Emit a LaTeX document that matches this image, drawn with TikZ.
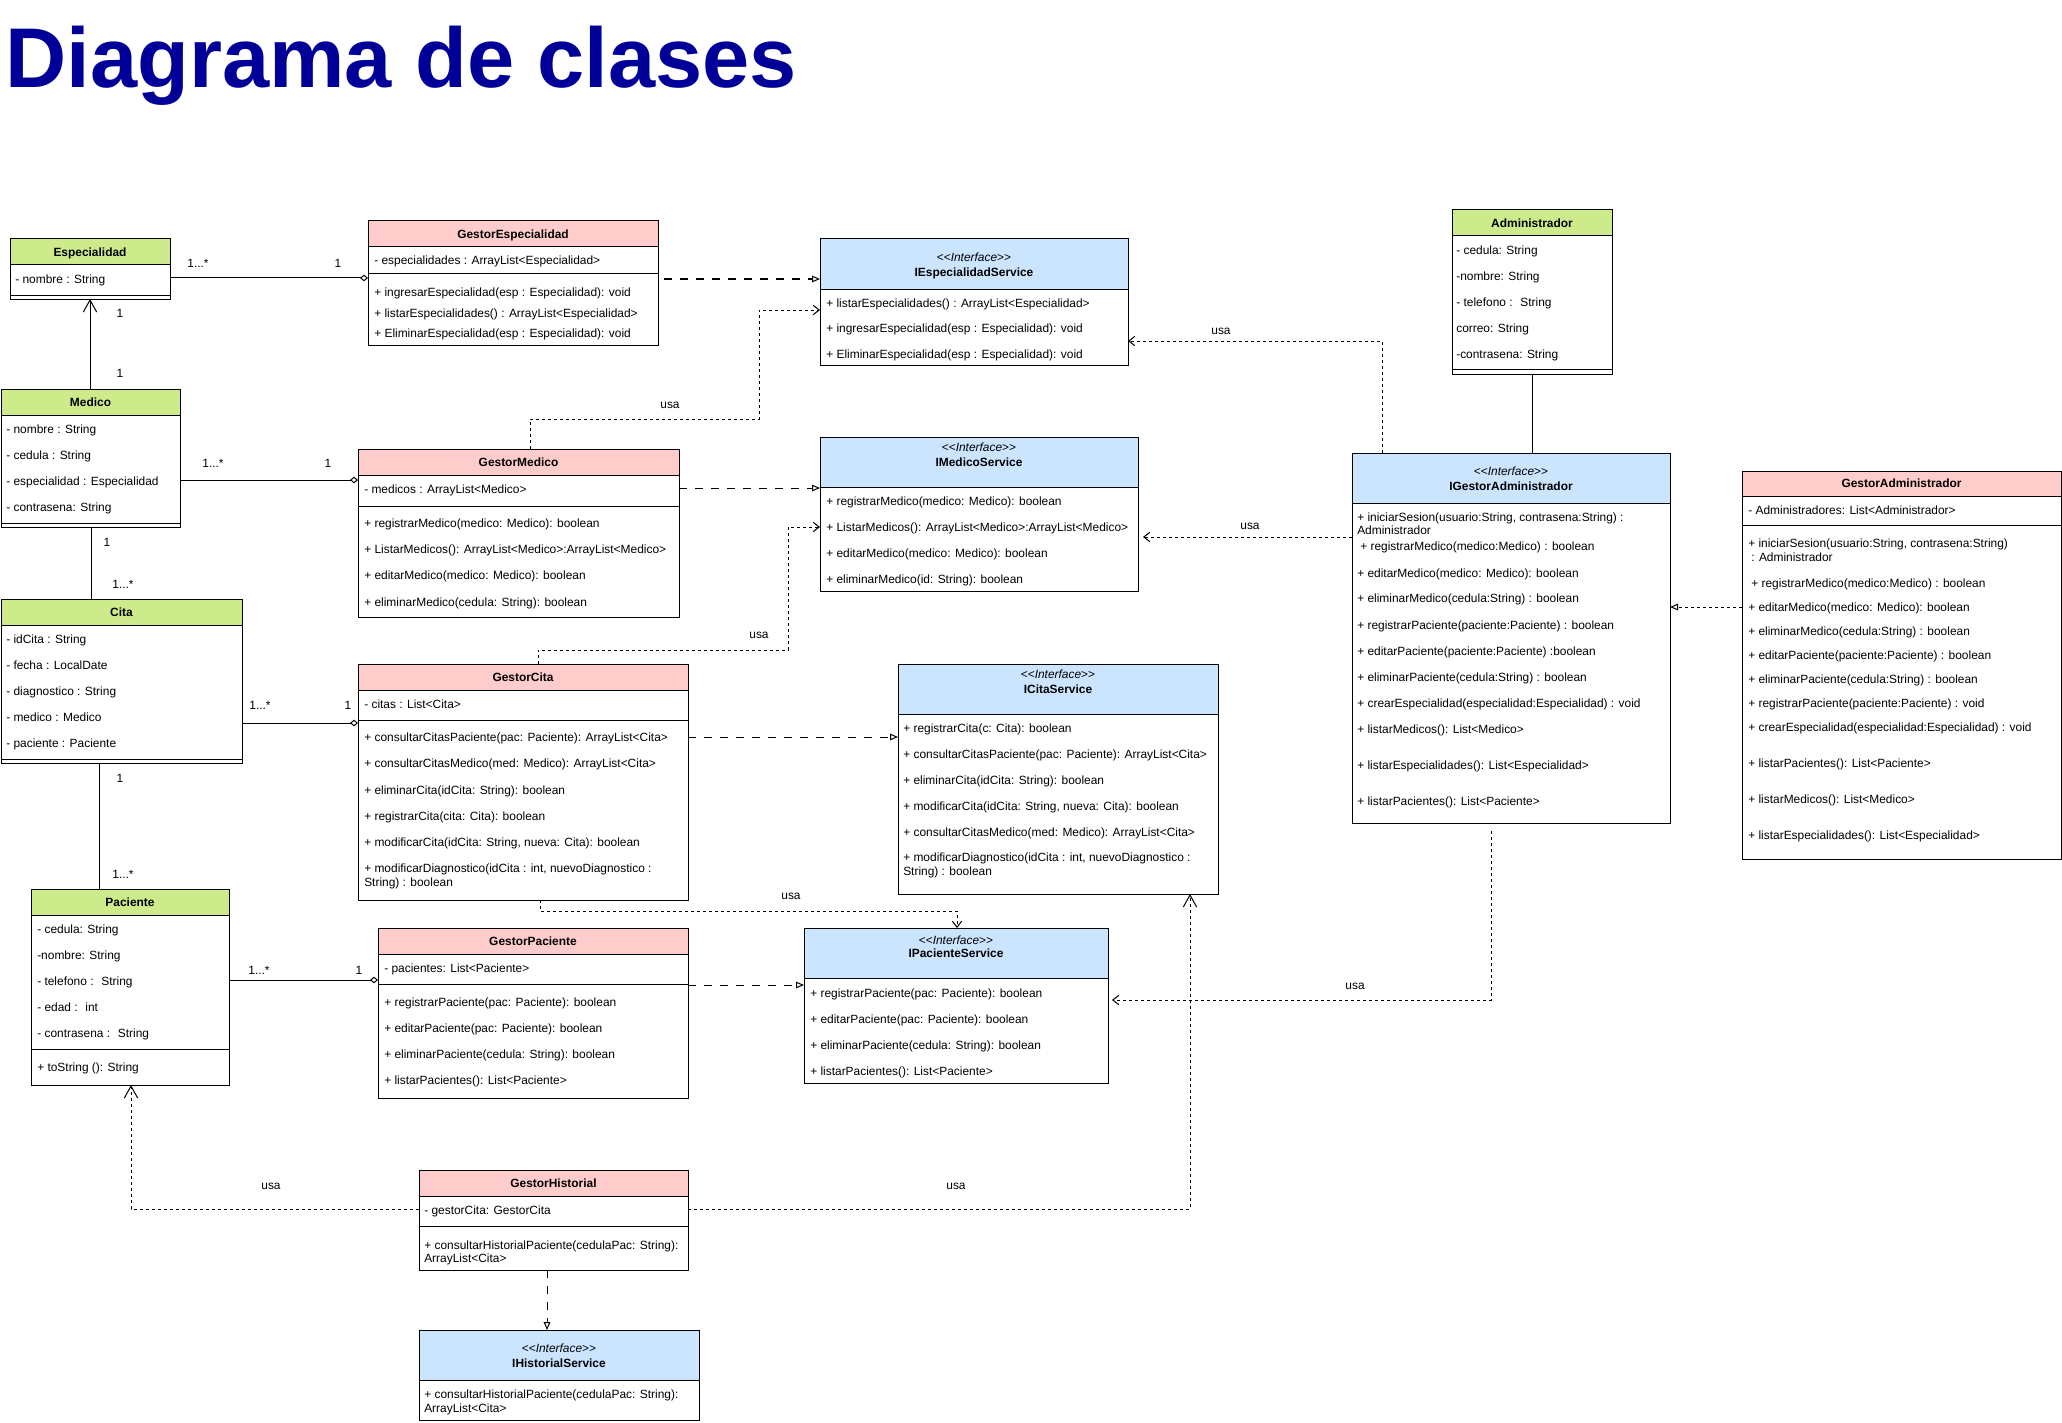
\documentclass[tikz,border=0pt]{standalone}
\usepackage{fontspec}
\setmainfont{Liberation Sans}
\usetikzlibrary{arrows.meta}
\definecolor{hgreen}{HTML}{CDEB8B}
\definecolor{hpink}{HTML}{FFCCCC}
\definecolor{hblue}{HTML}{CCE5FF}
\definecolor{ttl}{HTML}{000099}
\newcommand\ltlt{<\kern0pt<}
\newcommand\gtgt{>\kern0pt>}
\newcommand\umlbox[7]{%
  \node[box, minimum width=#4*0.75pt, minimum height=#5*0.75pt] (#1) at (#2,#3) {};
  \draw[boxl, fill=#7] (#2,#3) rectangle ++(#4,#6);
}
\newcommand\itm[4]{\node[itm] (#1) at (#2,#3) {#4};}
\newcommand\sepline[3]{\draw[boxl] (#1,#3) -- ++(#2,0);}
\begin{document}
\begin{tikzpicture}[x=0.75pt,y=-0.75pt,
  box/.style={draw=black, fill=white, line width=0.75pt, anchor=north west, inner sep=0pt, outer sep=0pt},
  boxl/.style={draw=black, line width=0.75pt},
  itm/.style={anchor=base west, inner sep=0pt, yshift=-3.1pt, font=\fontsize{8.95}{10.7}\selectfont},
  hdr/.style={anchor=base, inner sep=0pt, yshift=-3.1pt, font=\fontsize{8.95}{10.7}\selectfont\bfseries},
  ster/.style={anchor=base, inner sep=0pt, yshift=-3.1pt, font=\fontsize{8.95}{10.7}\selectfont},
  lbl/.style={anchor=base, inner sep=0pt, yshift=-3.1pt, font=\fontsize{8.95}{10.7}\selectfont},
  con/.style={line width=0.75pt},
  agg/.style={con, -{Diamond[open, length=6pt, width=5pt]}},
  real/.style={con, dash pattern=on 6pt off 6pt, -{Triangle[open, length=6pt, width=5pt]}},
  realshort/.style={con, dash pattern=on 2.25pt off 2.25pt, -{Triangle[open, length=6pt, width=5pt]}},
  usa/.style={con, dash pattern=on 2.25pt off 2.25pt, -{Straight Barb[length=4.5pt, width=7pt]}},
  usabig/.style={con, dash pattern=on 2.25pt off 2.25pt, -{Straight Barb[length=9pt, width=10pt]}},
  nav/.style={con, -{Straight Barb[length=9pt, width=10pt]}},
]
\fill[white] (0,0) rectangle (2062,1423);
\useasboundingbox (0,0) rectangle (2062,1423);

\node[anchor=base west, inner sep=0pt, text=ttl, font=\fontsize{63.6}{70}\selectfont\bfseries] (title) at (5,88) {Diagrama de clases};

% Especialidad
\umlbox{esp}{10}{239}{160}{60}{26}{hgreen}
\node[hdr] (esp-h) at (90,252) {Especialidad};
\itm{esp-1}{15}{279}{- nombre : String}
\sepline{10}{160}{295}

% GestorEspecialidad
\umlbox{gesp}{368}{221}{290}{124}{26}{hpink}
\node[hdr] (gesp-h) at (513,234) {GestorEspecialidad};
\itm{gesp-1}{374}{260}{- especialidades : ArrayList<Especialidad>}
\sepline{368}{290}{274}
\itm{gesp-2}{374}{292}{+ ingresarEspecialidad(esp : Especialidad): void}
\itm{gesp-3}{374}{313}{+ listarEspecialidades() : ArrayList<Especialidad>}
\itm{gesp-4}{374}{333}{+ EliminarEspecialidad(esp : Especialidad): void}

% IEspecialidadService
\umlbox{iesp}{820}{239}{308}{126}{50}{hblue}
\node[ster] (iesp-s) at (974,257) {\ltlt\textit{Interface}\gtgt};
\node[hdr] (iesp-h) at (974,272) {IEspecialidadService};
\itm{iesp-1}{826}{303}{+ listarEspecialidades() : ArrayList<Especialidad>}
\itm{iesp-2}{826}{328}{+ ingresarEspecialidad(esp : Especialidad): void}
\itm{iesp-3}{826}{354}{+ EliminarEspecialidad(esp : Especialidad): void}

% Administrador
\umlbox{admin}{1452}{210}{160}{164}{26}{hgreen}
\node[hdr] (admin-h) at (1532,223) {Administrador};
\itm{admin-1}{1456}{250}{- cedula: String}
\itm{admin-2}{1456}{276}{-nombre: String}
\itm{admin-3}{1456}{302}{- telefono : \ String}
\itm{admin-4}{1456}{328}{correo: String}
\itm{admin-5}{1456}{354}{-contrasena: String}
\sepline{1452}{160}{369}

% Medico
\umlbox{med}{1}{389}{179}{138}{26}{hgreen}
\node[hdr] (med-h) at (90.5,402) {Medico};
\itm{med-1}{6}{429}{- nombre : String}
\itm{med-2}{6}{455}{- cedula : String}
\itm{med-3}{6}{481}{- especialidad : Especialidad}
\itm{med-4}{6}{507}{- contrasena: String}
\sepline{1}{179}{523}

% GestorMedico
\umlbox{gmed}{358}{449}{321}{168}{26}{hpink}
\node[hdr] (gmed-h) at (518.5,462) {GestorMedico};
\itm{gmed-1}{364}{489}{- medicos : ArrayList<Medico>}
\sepline{358}{321}{506}
\itm{gmed-2}{364}{523}{+ registrarMedico(medico: Medico): boolean}
\itm{gmed-3}{364}{549}{+ ListarMedicos(): ArrayList<Medico>:ArrayList<Medico>}
\itm{gmed-4}{364}{575}{+ editarMedico(medico: Medico): boolean}
\itm{gmed-5}{364}{602}{+ eliminarMedico(cedula: String): boolean}

% IMedicoService
\umlbox{imed}{820}{437}{318}{154}{50}{hblue}
\node[ster] (imed-s) at (979,447) {\ltlt\textit{Interface}\gtgt};
\node[hdr] (imed-h) at (979,462) {IMedicoService};
\itm{imed-1}{826}{501}{+ registrarMedico(medico: Medico): boolean}
\itm{imed-2}{826}{527}{+ ListarMedicos(): ArrayList<Medico>:ArrayList<Medico>}
\itm{imed-3}{826}{553}{+ editarMedico(medico: Medico): boolean}
\itm{imed-4}{826}{579}{+ eliminarMedico(id: String): boolean}

% IGestorAdministrador
\umlbox{igadm}{1352}{453}{318}{370}{50}{hblue}
\node[ster] (igadm-s) at (1511,471) {\ltlt\textit{Interface}\gtgt};
\node[hdr] (igadm-h) at (1511,486) {IGestorAdministrador};
\itm{igadm-1}{1357}{517}{+ iniciarSesion(usuario:String, contrasena:String) :}
\itm{igadm-2}{1357}{530}{Administrador}
\itm{igadm-3}{1360}{546}{+ registrarMedico(medico:Medico) : boolean}
\itm{igadm-4}{1357}{573}{+ editarMedico(medico: Medico): boolean}
\itm{igadm-5}{1357}{598}{+ eliminarMedico(cedula:String) : boolean}
\itm{igadm-6}{1357}{625}{+ registrarPaciente(paciente:Paciente) : boolean}
\itm{igadm-7}{1357}{651}{+ editarPaciente(paciente:Paciente) :boolean}
\itm{igadm-8}{1357}{677}{+ eliminarPaciente(cedula:String) : boolean}
\itm{igadm-9}{1357}{703}{+ crearEspecialidad(especialidad:Especialidad) : void}
\itm{igadm-10}{1357}{729}{+ listarMedicos(): List<Medico>}
\itm{igadm-11}{1357}{765}{+ listarEspecialidades(): List<Especialidad>}
\itm{igadm-12}{1357}{801}{+ listarPacientes(): List<Paciente>}

% GestorAdministrador
\umlbox{gadm}{1742}{471}{319}{388}{25}{hpink}
\node[hdr] (gadm-h) at (1901.5,483.5) {GestorAdministrador};
\itm{gadm-1}{1748}{510}{- Administradores: List<Administrador>}
\sepline{1742}{319}{525}
\itm{gadm-2}{1748}{543}{+ iniciarSesion(usuario:String, contrasena:String)}
\itm{gadm-3}{1751}{557}{: Administrador}
\itm{gadm-4}{1751}{583}{+ registrarMedico(medico:Medico) : boolean}
\itm{gadm-5}{1748}{607}{+ editarMedico(medico: Medico): boolean}
\itm{gadm-6}{1748}{631}{+ eliminarMedico(cedula:String) : boolean}
\itm{gadm-7}{1748}{655}{+ editarPaciente(paciente:Paciente) : boolean}
\itm{gadm-8}{1748}{679}{+ eliminarPaciente(cedula:String) : boolean}
\itm{gadm-9}{1748}{703}{+ registrarPaciente(paciente:Paciente) : void}
\itm{gadm-10}{1748}{727}{+ crearEspecialidad(especialidad:Especialidad) : void}
\itm{gadm-11}{1748}{763}{+ listarPacientes(): List<Paciente>}
\itm{gadm-12}{1748}{799}{+ listarMedicos(): List<Medico>}
\itm{gadm-13}{1748}{835}{+ listarEspecialidades(): List<Especialidad>}

% Cita
\umlbox{cita}{1}{599}{241}{164}{26}{hgreen}
\node[hdr] (cita-h) at (121.5,612) {Cita};
\itm{cita-1}{6}{639}{- idCita : String}
\itm{cita-2}{6}{665}{- fecha : LocalDate}
\itm{cita-3}{6}{691}{- diagnostico : String}
\itm{cita-4}{6}{717}{- medico : Medico}
\itm{cita-5}{6}{743}{- paciente : Paciente}
\sepline{1}{241}{759}

% GestorCita
\umlbox{gcita}{358}{664}{330}{236}{26}{hpink}
\node[hdr] (gcita-h) at (523,677) {GestorCita};
\itm{gcita-1}{364}{704}{- citas : List<Cita>}
\sepline{358}{330}{720}
\itm{gcita-2}{364}{737}{+ consultarCitasPaciente(pac: Paciente): ArrayList<Cita>}
\itm{gcita-3}{364}{763}{+ consultarCitasMedico(med: Medico): ArrayList<Cita>}
\itm{gcita-4}{364}{790}{+ eliminarCita(idCita: String): boolean}
\itm{gcita-5}{364}{816}{+ registrarCita(cita: Cita): boolean}
\itm{gcita-6}{364}{842}{+ modificarCita(idCita: String, nueva: Cita): boolean}
\itm{gcita-7}{364}{868}{+ modificarDiagnostico(idCita : int, nuevoDiagnostico :}
\itm{gcita-8}{364}{882}{String) : boolean}

% ICitaService
\umlbox{icita}{898}{664}{320}{230}{50}{hblue}
\node[ster] (icita-s) at (1058,674) {\ltlt\textit{Interface}\gtgt};
\node[hdr] (icita-h) at (1058,689) {ICitaService};
\itm{icita-1}{903}{728}{+ registrarCita(c: Cita): boolean}
\itm{icita-2}{903}{754}{+ consultarCitasPaciente(pac: Paciente): ArrayList<Cita>}
\itm{icita-3}{903}{780}{+ eliminarCita(idCita: String): boolean}
\itm{icita-4}{903}{806}{+ modificarCita(idCita: String, nueva: Cita): boolean}
\itm{icita-5}{903}{832}{+ consultarCitasMedico(med: Medico): ArrayList<Cita>}
\itm{icita-6}{903}{857}{+ modificarDiagnostico(idCita : int, nuevoDiagnostico :}
\itm{icita-7}{903}{871}{String) : boolean}

% Paciente
\umlbox{pac}{31}{889}{198}{196}{26}{hgreen}
\node[hdr] (pac-h) at (130,902) {Paciente};
\itm{pac-1}{37}{929}{- cedula: String}
\itm{pac-2}{37}{955}{-nombre: String}
\itm{pac-3}{37}{981}{- telefono : \ String}
\itm{pac-4}{37}{1007}{- edad : \ int}
\itm{pac-5}{37}{1033}{- contrasena : \ String}
\sepline{31}{198}{1049}
\itm{pac-6}{37}{1067}{+ toString (): String}

% GestorPaciente
\umlbox{gpac}{378}{928}{310}{170}{26}{hpink}
\node[hdr] (gpac-h) at (533,941) {GestorPaciente};
\itm{gpac-1}{384}{968}{- pacientes: List<Paciente>}
\sepline{378}{310}{984}
\itm{gpac-2}{384}{1002}{+ registrarPaciente(pac: Paciente): boolean}
\itm{gpac-3}{384}{1028}{+ editarPaciente(pac: Paciente): boolean}
\itm{gpac-4}{384}{1054}{+ eliminarPaciente(cedula: String): boolean}
\itm{gpac-5}{384}{1080}{+ listarPacientes(): List<Paciente>}

% IPacienteService
\umlbox{ipac}{804}{928}{304}{155}{50}{hblue}
\node[ster] (ipac-s) at (956,940) {\ltlt\textit{Interface}\gtgt};
\node[hdr] (ipac-h) at (956,953) {IPacienteService};
\itm{ipac-1}{810}{993}{+ registrarPaciente(pac: Paciente): boolean}
\itm{ipac-2}{810}{1019}{+ editarPaciente(pac: Paciente): boolean}
\itm{ipac-3}{810}{1045}{+ eliminarPaciente(cedula: String): boolean}
\itm{ipac-4}{810}{1071}{+ listarPacientes(): List<Paciente>}

% GestorHistorial
\umlbox{ghist}{419}{1170}{269}{100}{26}{hpink}
\node[hdr] (ghist-h) at (553.5,1183) {GestorHistorial};
\itm{ghist-1}{424}{1210}{- gestorCita: GestorCita}
\sepline{419}{269}{1226}
\itm{ghist-2}{424}{1245}{+ consultarHistorialPaciente(cedulaPac: String):}
\itm{ghist-3}{424}{1258}{ArrayList<Cita>}

% IHistorialService
\umlbox{ihist}{419}{1330}{280}{90}{50}{hblue}
\node[ster] (ihist-s) at (559,1348) {\ltlt\textit{Interface}\gtgt};
\node[hdr] (ihist-h) at (559,1363) {IHistorialService};
\itm{ihist-1}{424}{1394}{+ consultarHistorialPaciente(cedulaPac: String):}
\itm{ihist-2}{424}{1408}{ArrayList<Cita>}

% ---------- associations ----------
\draw[agg] (esp.east |- 0,278) -- (gesp.west |- 0,278);
\node[lbl] (l1a) at (198,263) {1...*};
\node[lbl] (l1b) at (338,263) {1};

\draw[nav] (med.north -| 90,0) -- (esp.south -| 90,0);
\node[lbl] (l2a) at (120,313) {1};
\node[lbl] (l2b) at (120,373) {1};

\draw[agg] (med.east |- 0,480) -- (gmed.west |- 0,480);
\node[lbl] (l3a) at (213,463) {1...*};
\node[lbl] (l3b) at (328,463) {1};

\draw[con] (med.south -| 91,0) -- (cita.north -| 91,0);
\node[lbl] (l4a) at (107,542) {1};
\node[lbl] (l4b) at (123,584) {1...*};

\draw[agg] (cita.east |- 0,723) -- (gcita.west |- 0,723);
\node[lbl] (l5a) at (260,705) {1...*};
\node[lbl] (l5b) at (348,705) {1};

\draw[con] (cita.south -| 99,0) -- (pac.north -| 99,0);
\node[lbl] (l6a) at (120,778) {1};
\node[lbl] (l6b) at (123,874) {1...*};

\draw[agg] (pac.east |- 0,980) -- (gpac.west |- 0,980);
\node[lbl] (l7a) at (259,970) {1...*};
\node[lbl] (l7b) at (359,970) {1};

\draw[con] (admin.south -| 1532,0) -- (igadm.north -| 1532,0);

% ---------- realizations ----------
\draw[real, shorten <=4.5pt] (gesp.east |- 0,279) -- (iesp.west |- 0,279);
\draw[real] (gmed.east |- 0,488) -- (imed.west |- 0,488);
\draw[real] (gcita.east |- 0,737) -- (icita.west |- 0,737);
\draw[real] (gpac.east |- 0,985) -- (ipac.west |- 0,985);
\draw[real] (ghist.south -| 547,0) -- (ihist.north -| 547,0);
\draw[realshort] (gadm.west |- 0,607) -- (igadm.east |- 0,607);

% ---------- usa ----------
\draw[usa] (gmed.north -| 530,0) |- (759,419) |- (iesp.west |- 0,310);
\node[lbl] (u1) at (670,404) {usa};

\draw[usa] (gcita.north -| 538,0) |- (788,650) |- (imed.west |- 0,527);
\node[lbl] (u2) at (759,634) {usa};

\draw[usa] (gcita.south -| 540,0) |- (957,911) -- (ipac.north -| 957,0);
\node[lbl] (u3) at (791,895) {usa};

\draw[usa] (igadm.north -| 1382,0) |- (iesp.east |- 0,341);
\node[lbl] (u4) at (1221,330) {usa};

\draw[usa, shorten >=3.75pt] (igadm.west |- 0,537) -- (imed.east |- 0,537);
\node[lbl] (u5) at (1250,525) {usa};

\draw[usa, shorten <=6pt, shorten >=3pt] (igadm.south -| 1491,0) |- (ipac.east |- 0,1000);
\node[lbl] (u6) at (1355,985) {usa};

\draw[usabig] (ghist.west |- 0,1209) -| (pac.south -| 131,0);
\node[lbl] (u7) at (271,1185) {usa};

\draw[usabig] (ghist.east |- 0,1209) -| (icita.south -| 1190,0);
\node[lbl] (u8) at (956,1185) {usa};
\end{tikzpicture}
\end{document}
